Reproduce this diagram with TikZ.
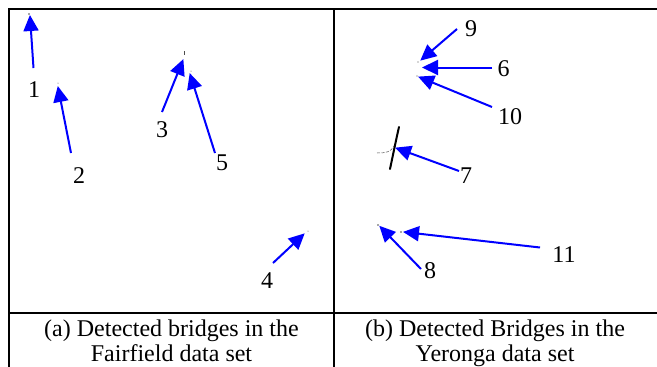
\documentclass[tikz,border=0pt]{standalone}
\usepackage{fontspec}
\setmainfont{Liberation Serif}
\usetikzlibrary{arrows.meta}
\definecolor{arrowblue}{RGB}{0,0,255}
\tikzset{
  frame/.style={line width=2.5pt, black},
  pointer/.style={draw=arrowblue, line width=2pt, -{Triangle[length=16pt,width=15pt]}, shorten >=-1pt},
  numlabel/.style={inner sep=0pt, font=\fontsize{24}{26}\selectfont},
  captext/.style={inner sep=0pt, anchor=base, font=\fontsize{24}{25}\selectfont},
  speck/.style={fill=black!70, draw=none},
}
\begin{document}
\begin{tikzpicture}[x=1pt,y=-1pt]
\useasboundingbox (0,0) rectangle (657,367);
% frame
\coordinate (tl) at (9,9);
\coordinate (tr) at (657,9);
\coordinate (bl) at (9,367);
\coordinate (mt) at (334,9);
\coordinate (mb) at (334,367);
\coordinate (hl) at (9,313);
\coordinate (hr) at (657,313);
\draw[frame] (bl) -- (tl) -- (tr);
\draw[frame] (mt) -- (mb);
\draw[frame] (hl) -- (hr);

% detected specks (left)
\fill[speck] (29,14) circle (0.8);
\fill[speck] (58,83) circle (0.5);
\fill[speck] (184,51) rectangle (185,55);
\fill[speck] (191,71) circle (0.5);
\fill[speck] (308,231) circle (0.5);
% detected specks (right)
\fill[speck] (418,62) circle (0.6);
\fill[speck] (417,76) circle (0.6);
\fill[speck] (378,225) circle (0.8);
\fill[speck] (401,232) circle (0.8);
\draw[black, line width=2pt, line cap=round] (399,127) .. controls (396,140) and (393,155) .. (390,169);
\draw[black!70, line width=0.5pt, dashed, dash pattern=on 3pt off 1.5pt] (377,153) .. controls (386,153) and (391,152) .. (394,146);

% tips and tails
\coordinate (t1) at (30,16);   \coordinate (s1) at (33.5,68);
\coordinate (t2) at (58,87);   \coordinate (s2) at (71,153);
\coordinate (t3) at (183,60);  \coordinate (s3) at (162,112);
\coordinate (t5) at (190,74);  \coordinate (s5) at (215,153);
\coordinate (t4) at (304,234); \coordinate (s4) at (273,263);
\coordinate (t9) at (421,60);  \coordinate (s9) at (457,29);
\coordinate (t6) at (423,67.5);\coordinate (s6) at (492,67.5);
\coordinate (t10) at (419,77); \coordinate (s10) at (492,107);
\coordinate (t7) at (396,148); \coordinate (s7) at (459,171);
\coordinate (t8) at (380,226.5); \coordinate (s8) at (421,269);
\coordinate (t11) at (404,232);  \coordinate (s11) at (540,247.5);

\foreach \i in {1,2,3,4,5,6,7,8,9,10,11} {\draw[pointer] (s\i) -- (t\i);}

% labels
\node[numlabel] (n1) at (34,90) {1};
\node[numlabel] (n2) at (79,176) {2};
\node[numlabel] (n3) at (162,130) {3};
\node[numlabel] (n4) at (267,281) {4};
\node[numlabel] (n5) at (222,163) {5};
\node[numlabel] (n6) at (503.5,69) {6};
\node[numlabel] (n7) at (466,176) {7};
\node[numlabel] (n8) at (430,270.5) {8};
\node[numlabel] (n9) at (471,29) {9};
\node[numlabel] (n10) at (510,116.5) {10};
\node[numlabel] (n11) at (564,255) {11};

% captions
\node[captext] (ca1) at (171.5,336) {(a) Detected bridges in the};
\node[captext] (ca2) at (171.5,361.5) {Fairfield data set};
\node[captext] (cb1) at (495,336) {(b) Detected Bridges in the};
\node[captext] (cb2) at (495,361.5) {Yeronga data set};
\end{tikzpicture}
\end{document}
